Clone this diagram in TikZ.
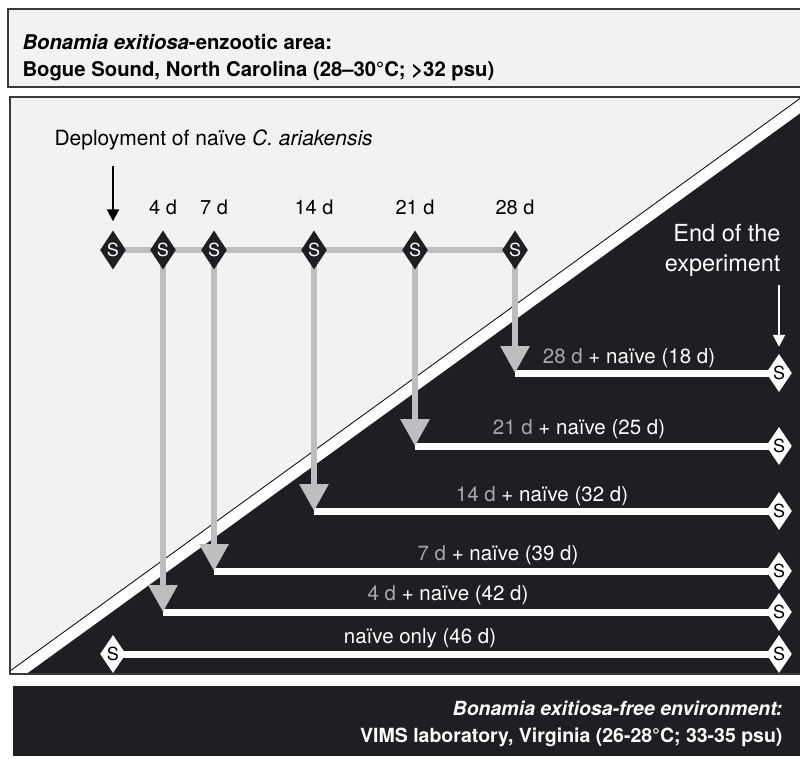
\documentclass[tikz,border=0pt]{standalone}
\usepackage{fontspec}
\setmainfont{TeX Gyre Heros}
\usetikzlibrary{shapes.geometric,arrows.meta}
\definecolor{panel}{HTML}{F1F2F2}
\definecolor{ink}{HTML}{1E1F23}
\definecolor{lgray}{HTML}{BCBEC0}
\definecolor{tgray}{HTML}{A7A9AC}
\definecolor{frame}{HTML}{3A3A3A}
\pgfdeclarelayer{bg}\pgfdeclarelayer{mid}\pgfsetlayers{bg,mid,main}
\begin{document}
\begin{tikzpicture}[x=1pt,y=-1pt,
  sblack/.style={diamond, fill=ink, text=white, minimum width=25pt, minimum height=39pt, inner sep=0pt, font=\fontsize{18}{18}\selectfont},
  swhite/.style={diamond, fill=white, text=black, minimum width=23pt, minimum height=38pt, inner sep=0pt, font=\fontsize{18}{18}\selectfont},
  daylab/.style={font=\fontsize{20}{20}\selectfont, text=black},
  rowlab/.style={font=\fontsize{20.5}{20.5}\selectfont, text=white},
  glink/.style={draw=lgray, line width=6pt},
  garrow/.style={draw=lgray, line width=6pt, -{Triangle[width=28pt,length=27pt]}},
  wlink/.style={draw=white, line width=7pt},
  blackarr/.style={draw=black, line width=2pt, -{Triangle[width=12pt,length=12pt]}},
  whitearr/.style={draw=white, line width=2pt, -{Triangle[width=12pt,length=12pt]}}
]
\useasboundingbox (0,0) rectangle (800,759);
\begin{pgfonlayer}{bg}
  \fill[panel, draw=frame, line width=1.2pt] (8,9) rectangle (803,87);
  \fill[panel] (10,97) rectangle (803,674);
  \fill[white] (10,671) -- (803,96.3) -- (803,674) -- (10,674) -- cycle;
  \draw[black, line width=0.8pt] (10,671) -- (803,96.3);
  \fill[ink] (26.5,674) -- (803,111.3) -- (803,674) -- cycle;
  \draw[frame, line width=1.2pt] (10,97) rectangle (803,674);
  \fill[ink] (13,686) rectangle (803,756);
\end{pgfonlayer}

% titles
\node[anchor=west, align=left, font=\bfseries\fontsize{20.3}{27}\selectfont] (title) at (19,58)
  {\textit{Bonamia exitiosa}-enzootic area:\\Bogue Sound, North Carolina (28–30°C; >32 psu)};
\node[anchor=east, align=right, text=white, font=\bfseries\fontsize{19.5}{27}\selectfont] (vims) at (786,724)
  {\textit{Bonamia exitiosa-free environment:}\\VIMS laboratory, Virginia (26-28°C; 33-35 psu)};
\node[anchor=west, font=\fontsize{21}{25}\selectfont] (deploy) at (51,140)
  {Deployment of naïve \textit{C. ariakensis}};
\node[anchor=east, align=right, text=white, font=\fontsize{23.5}{30}\selectfont] (endexp) at (784,250)
  {End of the\\experiment};

% top row of sampling points
\node[sblack] (d0)  at (113,250) {S};
\node[sblack] (d4)  at (163,250) {S};
\node[sblack] (d7)  at (214,250) {S};
\node[sblack] (d14) at (314,250) {S};
\node[sblack] (d21) at (415,250) {S};
\node[sblack] (d28) at (515,250) {S};

\node[daylab] (t4)  at (163,207) {4 d};
\node[daylab] (t7)  at (214,207) {7 d};
\node[daylab] (t14) at (314,207) {14 d};
\node[daylab] (t21) at (415,207) {21 d};
\node[daylab] (t28) at (515,207) {28 d};

% end points
\node[swhite] (e28) at (779,373) {S};
\node[swhite] (e21) at (779,446) {S};
\node[swhite] (e14) at (779,511) {S};
\node[swhite] (e7)  at (779,571) {S};
\node[swhite] (e4)  at (779,612) {S};
\node[swhite] (e0)  at (779,654) {S};
\node[swhite] (n0)  at (113,654) {S};

\coordinate (r28) at (515,373);
\coordinate (r21) at (415,446);
\coordinate (r14) at (314,511);
\coordinate (r7)  at (214,571);
\coordinate (r4)  at (163,612);

\begin{pgfonlayer}{mid}
  \draw[glink] (d0.center) -- (d28.center);
  \draw[wlink] (r28) -- (e28.center);
  \draw[wlink] (r21) -- (e21.center);
  \draw[wlink] (r14) -- (e14.center);
  \draw[wlink] (r7)  -- (e7.center);
  \draw[wlink] (r4)  -- (e4.center);
  \draw[wlink] (n0.center) -- (e0.center);
  \draw[garrow] (d28.center) -- (r28);
  \draw[garrow] (d21.center) -- (r21);
  \draw[garrow] (d14.center) -- (r14);
  \draw[garrow] (d7.center)  -- (r7);
  \draw[garrow] (d4.center)  -- (r4);
\end{pgfonlayer}

\coordinate (depstart) at (113,166);
\coordinate (endstart) at (779,285);
\draw[blackarr, shorten >=9pt] (depstart) -- (d0.north);
\draw[whitearr, shorten >=7pt] (endstart) -- (e28.north);

% row labels
\node[rowlab] (l28) at (629,358) {\textcolor{tgray}{28 d} + naïve (18 d)};
\node[rowlab] (l21) at (579,429) {\textcolor{tgray}{21 d} + naïve (25 d)};
\node[rowlab] (l14) at (542,496) {\textcolor{tgray}{14 d} + naïve (32 d)};
\node[rowlab] (l7)  at (498,555) {\textcolor{tgray}{7 d} + naïve (39 d)};
\node[rowlab] (l4)  at (448,595) {\textcolor{tgray}{4 d} + naïve (42 d)};
\node[rowlab] (l0)  at (420,638) {naïve only (46 d)};
\end{tikzpicture}
\end{document}
